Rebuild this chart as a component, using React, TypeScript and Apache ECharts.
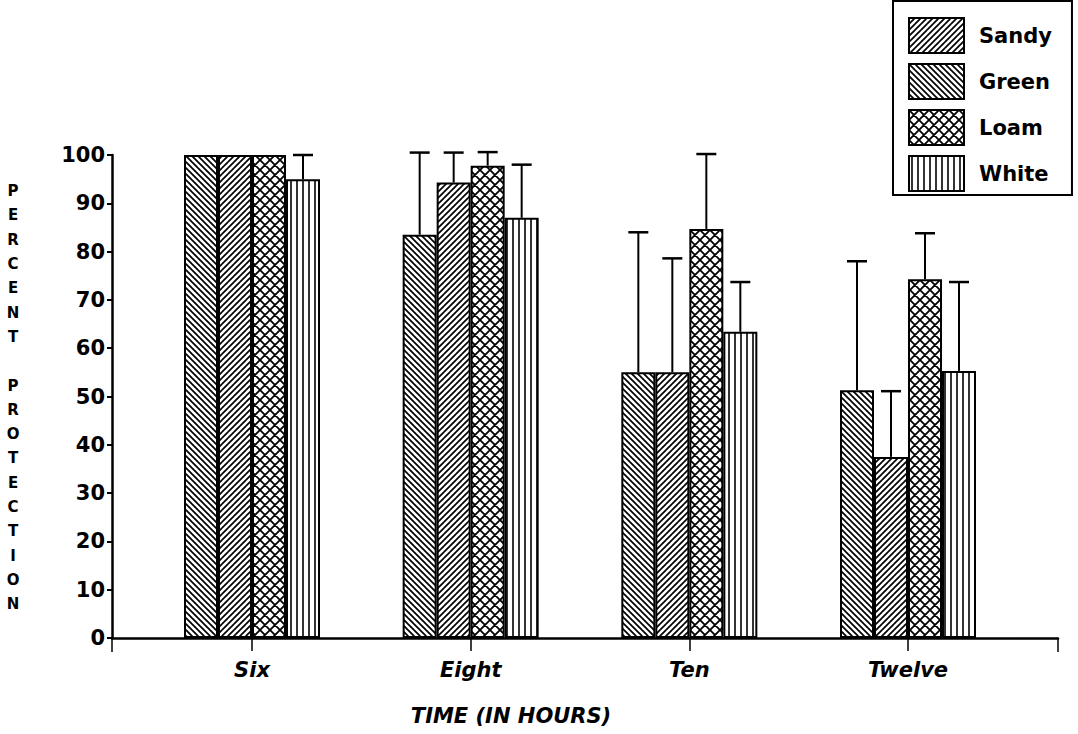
import React, { useEffect, useRef } from 'react';
import * as echarts from 'echarts';

// ---- data ----
const categories = ['Six', 'Eight', 'Ten', 'Twelve'];
const legendOrder = ['Sandy', 'Green', 'Loam', 'White'];

const greenValues = [100, 83.5, 55, 51.3];
const greenErrors = [0, 17, 29, 26.7];
const sandyValues = [100, 94.3, 55, 37.5];
const sandyErrors = [0, 6.2, 23.6, 13.6];
const loamValues = [100, 97.8, 84.7, 74.3];
const loamErrors = [0, 2.8, 15.5, 9.5];
const whiteValues = [95, 87, 63.4, 55.3];
const whiteErrors = [5, 11, 10.3, 18.4];

const yMin = 0;
const yMax = 100;
const yStep = 10;

const xTitle = 'TIME (IN HOURS)';
const yTitle = 'PERCENT PROTECTION';

// ---- styling ----
const FONT = 'DejaVu Sans';
const BAR_W = 34;
const CAP_W = 20;

function makeTile(kind: string) {
  const s = kind === 'cross' ? 10 : 6;
  const c = document.createElement('canvas');
  c.width = s;
  c.height = s;
  const ctx = c.getContext('2d')!;
  ctx.fillStyle = '#fff';
  ctx.fillRect(0, 0, s, s);
  ctx.strokeStyle = '#000';
  ctx.lineCap = 'square';
  const down = () => {
    for (const k of [-1, 0, 1]) {
      ctx.moveTo(k * s, 0);
      ctx.lineTo(k * s + s, s);
    }
  };
  const up = () => {
    for (const k of [-1, 0, 1]) {
      ctx.moveTo(k * s, s);
      ctx.lineTo(k * s + s, 0);
    }
  };
  ctx.beginPath();
  if (kind === 'down') {
    ctx.lineWidth = 1.7;
    down();
  } else if (kind === 'up') {
    ctx.lineWidth = 1.7;
    up();
  } else if (kind === 'cross') {
    ctx.lineWidth = 1.8;
    down();
    up();
  } else {
    ctx.lineWidth = 1.6;
    ctx.moveTo(s / 2, 0);
    ctx.lineTo(s / 2, s);
  }
  ctx.stroke();
  return { image: c.toDataURL(), repeat: 'repeat', imageWidth: s, imageHeight: s };
}

export default function App() {
  const ref = useRef<HTMLDivElement>(null);

  useEffect(() => {
    document.body.style.margin = '0';
    if (!ref.current) return;
    const chart = echarts.init(ref.current, undefined, { renderer: 'svg' });

    const seriesDefs = [
      { name: 'Green', values: greenValues, errors: greenErrors, tile: 'down' },
      { name: 'Sandy', values: sandyValues, errors: sandyErrors, tile: 'up' },
      { name: 'Loam', values: loamValues, errors: loamErrors, tile: 'cross' },
      { name: 'White', values: whiteValues, errors: whiteErrors, tile: 'vert' },
    ];

    const barSeries = seriesDefs.map((d) => ({
      type: 'bar',
      name: d.name,
      xAxisIndex: 0,
      yAxisIndex: 0,
      data: d.values,
      barWidth: BAR_W,
      barGap: '0%',
      itemStyle: { color: makeTile(d.tile), borderColor: '#000', borderWidth: 2 },
      emphasis: { disabled: true },
    }));

    const errData: number[][] = [];
    seriesDefs.forEach((d, si) => {
      d.values.forEach((v, ci) => {
        if (d.errors[ci] > 0) errData.push([ci, si, v, d.errors[ci]]);
      });
    });

    const n = seriesDefs.length;
    const errSeries = {
      type: 'custom',
      name: 'errors',
      xAxisIndex: 0,
      yAxisIndex: 0,
      z: 5,
      clip: false,
      encode: { x: 0, y: 2 },
      data: errData,
      renderItem: (_params: any, api: any) => {
        const ci = api.value(0);
        const si = api.value(1);
        const v = api.value(2);
        const e = api.value(3);
        const base = api.coord([ci, v]);
        const top = api.coord([ci, v + e]);
        const x = base[0] + (si - (n - 1) / 2) * BAR_W;
        return {
          type: 'group',
          children: [
            { type: 'line', shape: { x1: x, y1: base[1], x2: x, y2: top[1] }, style: { stroke: '#000', lineWidth: 2 } },
            { type: 'line', shape: { x1: x - CAP_W / 2, y1: top[1], x2: x + CAP_W / 2, y2: top[1] }, style: { stroke: '#000', lineWidth: 2.5 } },
          ],
        };
      },
    };

    const yTitleText = yTitle.split('').map((ch) => (ch === ' ' ? '' : ch)).join('\n');

    chart.setOption({
      animation: false,
      backgroundColor: '#fff',
      grid: [
        { left: 142.67, right: 60.67, top: 155, bottom: 96 },
        { left: 112, right: 20, top: 155, bottom: 96 },
      ],
      xAxis: [
        {
          type: 'category',
          gridIndex: 0,
          data: categories,
          axisLine: { show: false },
          axisTick: { show: true, alignWithLabel: true, length: 13, lineStyle: { color: '#000', width: 1.5 } },
          axisLabel: {
            margin: 21,
            color: '#000',
            fontFamily: FONT,
            fontWeight: 'bold',
            fontStyle: 'italic',
            fontSize: 21,
          },
          splitLine: { show: false },
        },
        {
          type: 'value',
          gridIndex: 1,
          min: 0,
          max: 1,
          interval: 1,
          axisLine: { show: true, lineStyle: { color: '#000', width: 2.5 } },
          axisTick: { show: true, length: 14, lineStyle: { color: '#000', width: 1.5 } },
          axisLabel: { show: false },
          splitLine: { show: false },
        },
      ],
      yAxis: [
        {
          type: 'value',
          gridIndex: 0,
          min: yMin,
          max: yMax,
          interval: yStep,
          offset: 30.67,
          axisLine: { show: true, lineStyle: { color: '#000', width: 2.5 } },
          axisTick: { show: true, length: 5, lineStyle: { color: '#000', width: 2 } },
          axisLabel: {
            margin: 7,
            color: '#000',
            fontFamily: FONT,
            fontWeight: 'bold',
            fontSize: 21,
          },
          splitLine: { show: false },
        },
        { type: 'value', gridIndex: 1, min: 0, max: 1, show: false },
      ],
      legend: {
        data: legendOrder,
        orient: 'vertical',
        left: 893,
        top: 1,
        icon: 'rect',
        itemWidth: 55,
        itemHeight: 35,
        itemGap: 9,
        padding: [16, 20, 3, 15],
        borderColor: '#000',
        borderWidth: 2,
        backgroundColor: '#fff',
        selectedMode: false,
        textStyle: {
          color: '#000',
          fontFamily: FONT,
          fontWeight: 'bold',
          fontSize: 21,
          padding: [0, 0, 0, 10],
        },
      },
      graphic: [
        {
          type: 'text',
          x: 511,
          y: 716,
          style: {
            text: xTitle,
            align: 'center',
            verticalAlign: 'middle',
            fill: '#000',
            fontFamily: FONT,
            fontWeight: 'bold',
            fontStyle: 'italic',
            fontSize: 21,
          },
        },
        {
          type: 'text',
          x: 13,
          y: 179,
          style: {
            text: yTitleText,
            align: 'center',
            verticalAlign: 'top',
            lineHeight: 24.3,
            fill: '#000',
            fontFamily: FONT,
            fontWeight: 'bold',
            fontSize: 15,
          },
        },
      ],
      series: [...barSeries, errSeries],
    });

    return () => chart.dispose();
  }, []);

  return <div ref={ref} style={{ width: 1078, height: 734 }} />;
}
